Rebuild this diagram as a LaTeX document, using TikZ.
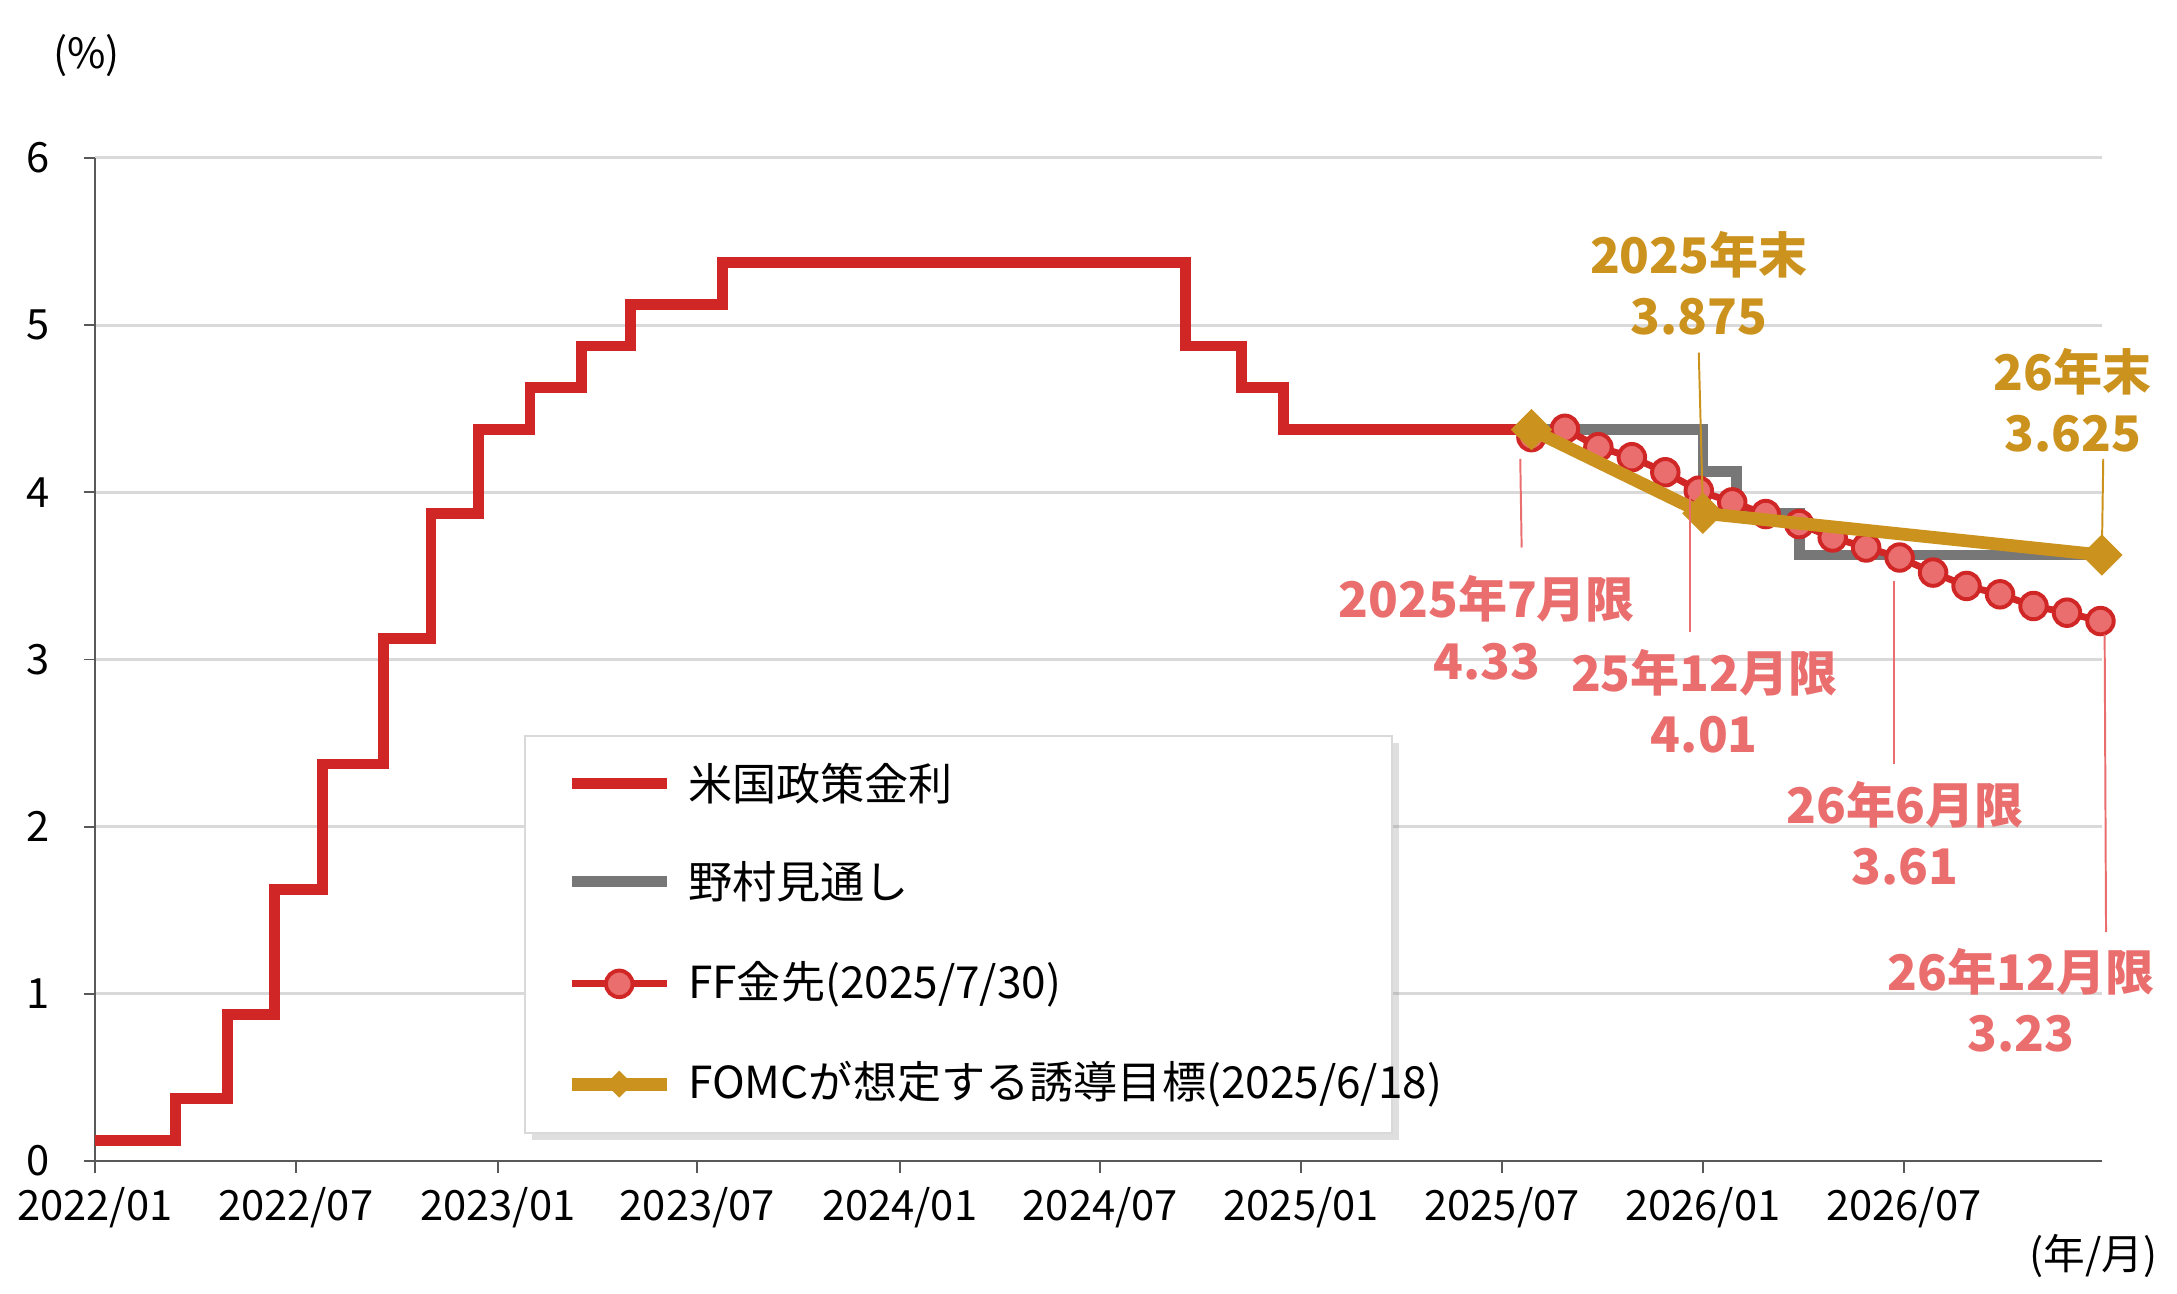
\documentclass[tikz,border=0pt]{standalone}
\usepackage{fontspec}
\setmainfont{Noto Sans CJK JP}
\usetikzlibrary{shadows,calc,shapes.geometric}
\definecolor{policyred}{HTML}{D02626}
\definecolor{nomuragray}{HTML}{777777}
\definecolor{ffpink}{HTML}{EA6E6E}
\definecolor{fomcgold}{HTML}{CC921E}
\definecolor{gridgray}{HTML}{D9D9D9}
\tikzset{
  tick/.style={font=\fontsize{8.5}{10}\selectfont},
  ffdot/.style={circle,draw=policyred,fill=ffpink,line width=0.8pt,inner sep=0pt,minimum size=0.19cm},
  fomcdia/.style={diamond,fill=fomcgold,inner sep=0pt,minimum size=0.3cm},
  pinklabel/.style={font=\bfseries\fontsize{10}{12.5}\selectfont,text=ffpink,align=center},
  goldlabel/.style={font=\bfseries\fontsize{10}{12.5}\selectfont,text=fomcgold,align=center},
  legtext/.style={font=\fontsize{9}{11}\selectfont,anchor=west},
}
\begin{document}
\begin{tikzpicture}
\useasboundingbox (0,0) rectangle (15.6,9.27);
\node[tick] (unit) at (0.62,8.87) {(\%)};
\node[tick] (unitx) at (15.0,0.27) {(年/月)};
\begin{scope}[shift={(0,0.95)},x=0.01cm,y=1.198cm]
  % grid and axes
  \foreach \v in {1,...,6}
    \draw[gridgray,line width=0.6pt] (68,\v) -- (1507,\v);
  \foreach \v in {0,...,6} {
    \draw[gray!70!black] (60,\v) -- (68,\v);
    \node[tick,anchor=east] (y\v) at (48,\v) {\v};
  }
  \draw[gray!70!black] (68,0) -- (68,6);
  \draw[gray!70!black] (68,0) -- (1507,0);
  \foreach \x/\t [count=\i] in {68/{2022/01},212/{2022/07},357/{2023/01},500/{2023/07},645/{2024/01},789/{2024/07},933/{2025/01},1077/{2025/07},1221/{2026/01},1365/{2026/07}} {
    \draw[gray!70!black] (\x,0) -- (\x,-0.07);
    \node[tick] (x\i) at (\x,-0.28) {\t};
  }
  % policy rate
  \draw[policyred,line width=2.2pt] (68,.125) -| (126,.375) -| (163,.875) -| (197,1.625)
    -| (231,2.375) -| (275,3.125) -| (309,3.875) -| (343,4.375) -| (380,4.625)
    -| (417,4.875) -| (452,5.125) -| (518,5.375) -| (850,4.875) -| (890,4.625)
    -| (920,4.375) -- (1098,4.375);
  % Nomura
  \draw[nomuragray,line width=2.2pt] (1098,4.375) -| (1221,4.125) -| (1245,3.875)
    -| (1290,3.625) -- (1507,3.625);
  % FF futures
  \draw[policyred,line width=1.4pt] plot coordinates {(1098,4.33) (1122,4.38) (1146,4.27) (1170,4.21) (1194,4.12) (1218,4.01) (1242,3.94) (1266,3.87) (1290,3.81) (1314,3.73) (1338,3.67) (1362,3.61) (1386,3.52) (1410,3.44) (1434,3.39) (1458,3.32) (1482,3.28) (1506,3.23)};
  \foreach \x/\v [count=\i] in {1098/4.33,1122/4.38,1146/4.27,1170/4.21,1194/4.12,1218/4.01,1242/3.94,1266/3.87,1290/3.81,1314/3.73,1338/3.67,1362/3.61,1386/3.52,1410/3.44,1434/3.39,1458/3.32,1482/3.28,1506/3.23}
    \node[ffdot] (ff\i) at (\x,\v) {};
  % FOMC
  \node[fomcdia] (fa) at (1098,4.375) {};
  \node[fomcdia] (fb) at (1221,3.875) {};
  \node[fomcdia] (fc) at (1507,3.625) {};
  \draw[fomcgold,line width=2.6pt] (fa.center) -- (fb.center) -- (fc.center);
  \node[fomcdia] at (fa) {};
  \node[fomcdia] at (fb) {};
  \node[fomcdia] at (fc) {};
  % labels
  \node[goldlabel] (lb25) at (1218,5.25) {2025年末\\3.875};
  \draw[fomcgold] (lb25.south) -- (fb.center);
  \node[goldlabel] (lb26) at (1486,4.55) {26年末\\3.625};
  \coordinate (lb26e) at (1508,4.2);
  \draw[fomcgold] (lb26e) -- (fc.center);
  \node[pinklabel] (lp1) at (1066,3.19) {2025年7月限\\4.33};
  \coordinate (lp1a) at (1090,4.2); \coordinate (lp1b) at (1091,3.67);
  \draw[ffpink] (lp1a) -- (lp1b);
  \node[pinklabel] (lp2) at (1222,2.75) {25年12月限\\4.01};
  \coordinate (lp2a) at (1212,3.97);
  \draw[ffpink] (lp2a) -- (lp2.north -| lp2a);
  \node[pinklabel] (lp3) at (1366,1.96) {26年6月限\\3.61};
  \coordinate (lp3a) at (1358,3.47);
  \draw[ffpink] (lp3a) -- (lp3.north -| lp3a);
  \node[pinklabel] (lp4) at (1449,0.96) {26年12月限\\3.23};
  \coordinate (lp4a) at (1509,3.15); \coordinate (lp4b) at (1510,1.37);
  \draw[ffpink] (lp4a) -- (lp4b);
  % legend
  \node[draw=gray!30,fill=white,drop shadow={opacity=0.25,shadow xshift=0.05cm,shadow yshift=-0.05cm},minimum width=6.21cm,minimum height=2.85cm,anchor=north west] (leg) at (376,2.55) {};
  \foreach \yy/\t [count=\i] in {2.26/{米国政策金利},1.67/{野村見通し},1.06/{FF金先(2025/7/30)},0.46/{FOMCが想定する誘導目標(2025/6/18)}} {
    \coordinate (ls\i) at (410,\yy); \coordinate (le\i) at (478,\yy);
    \node[legtext] (lt\i) at (481,\yy) {\t};
  }
  \draw[policyred,line width=2.2pt] (ls1) -- (le1);
  \draw[nomuragray,line width=2.2pt] (ls2) -- (le2);
  \draw[policyred,line width=1.4pt] (ls3) -- (le3);
  \node[ffdot] (lm3) at ($(ls3)!0.5!(le3)$) {};
  \draw[fomcgold,line width=2.6pt] (ls4) -- (le4);
  \node[fomcdia,minimum size=0.2cm] (lm4) at ($(ls4)!0.5!(le4)$) {};
\end{scope}
\end{tikzpicture}
\end{document}
